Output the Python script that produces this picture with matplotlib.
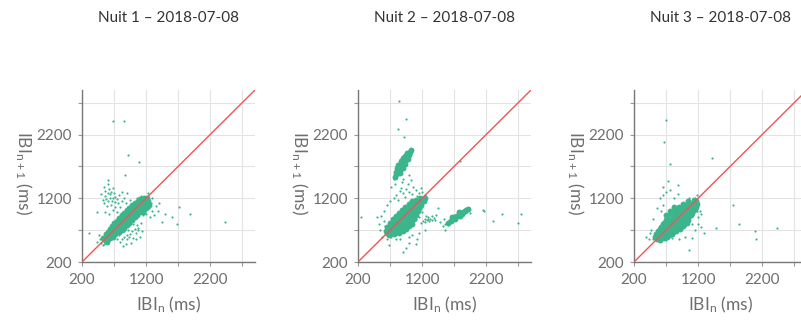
import numpy as np
import matplotlib
matplotlib.use("Agg")
import matplotlib.pyplot as plt

plt.rcParams['font.family'] = ['Lato', 'DejaVu Sans']
plt.rcParams['mathtext.default'] = 'regular'

titles = ["Nuit 1 – 2018-07-08", "Nuit 2 – 2018-07-08", "Nuit 3 – 2018-07-08"]
ticks = [200, 700, 1200, 1700, 2200, 2700]
tick_labels = ["200", "", "1200", "", "2200", ""]

# dense part of each night (IBI_n, IBI_n+1) in ms
n1_core = [(560, 540), (530, 580), (590, 520),
           (600, 600), (570, 640), (630, 570), (610, 560),
           (640, 630), (600, 670), (680, 600), (650, 660),
           (680, 680), (630, 720), (720, 640), (700, 700), (660, 650),
           (720, 710), (670, 760), (770, 670), (740, 740), (700, 690),
           (760, 750), (700, 810), (820, 700), (780, 780), (740, 730), (730, 790),
           (800, 790), (740, 850), (860, 740), (820, 820), (780, 770), (760, 830), (840, 760),
           (840, 830), (780, 890), (900, 780), (860, 860), (820, 810), (800, 870), (880, 800),
           (880, 870), (820, 930), (940, 820), (900, 900), (860, 850), (840, 910), (920, 840),
           (920, 910), (860, 970), (980, 860), (940, 940), (900, 890), (880, 950), (960, 880),
           (960, 950), (900, 1010), (1020, 900), (980, 980), (940, 930), (920, 990), (1000, 920),
           (1000, 990), (940, 1050), (1060, 940), (1020, 1020), (980, 970), (960, 1030), (1040, 960),
           (1040, 1030), (980, 1090), (1100, 980), (1060, 1060), (1020, 1010), (1000, 1070), (1080, 1000),
           (1080, 1070), (1020, 1130), (1140, 1020), (1100, 1100), (1060, 1050), (1040, 1110), (1120, 1040),
           (1120, 1110), (1070, 1160), (1170, 1060), (1140, 1140), (1100, 1090), (1160, 1100),
           (1160, 1150), (1110, 1190), (1200, 1100), (1180, 1170), (1140, 1130),
           (1200, 1180), (1170, 1210), (1230, 1150), (1220, 1200),
           (640, 700), (700, 760), (760, 820), (820, 880), (880, 940), (940, 1000), (1000, 1060),
           (1060, 1120), (1100, 1160), (700, 640), (760, 700), (820, 760), (880, 820), (940, 880),
           (1000, 940), (1060, 1000), (1120, 1060), (1180, 1110), (1250, 1100), (1200, 1050), (1150, 990)]
n1_sparse = [(520, 1180), (560, 1230), (600, 1150), (640, 1260), (680, 1200), (710, 1140), (560, 1320),
             (620, 1340), (700, 1280), (740, 1190), (500, 1260), (650, 1100), (590, 1080), (720, 1060),
             (760, 1120), (540, 1380), (610, 1420), (680, 1360), (770, 1250), (820, 1150), (800, 1060),
             (690, 1010), (560, 980), (620, 950), (750, 980), (850, 1210), (900, 1280), (820, 1300), (950, 1180),
             (880, 1120), (800, 520), (850, 600), (900, 560), (950, 640), (1000, 580), (1050, 650), (1100, 600),
             (880, 480), (960, 500), (1020, 720), (1080, 700), (1130, 680), (920, 700), (860, 680), (780, 620),
             (1000, 800), (1060, 780), (1120, 820), (740, 560), (840, 450), (1250, 1050), (1300, 1000),
             (1280, 1120), (1350, 1080), (1200, 960), (1260, 900), (1320, 940), (1380, 1000), (1180, 1000),
             (1150, 930), (1230, 1280), (1300, 1200), (1400, 1130), (1120, 1230), (1060, 1200), (1000, 1130),
             (480, 560), (460, 620), (500, 500), (520, 470), (430, 520), (550, 480), (684, 2417), (850, 2417),
             (918, 1877), (1086, 1768), (877, 1560), (605, 1494), (435, 987), (304, 648), (1711, 1065),
             (1893, 961), (1607, 909), (1685, 804), (1450, 830), (2426, 829), (1500, 960),
             (580, 1190), (630, 1210), (540, 1130), (670, 1150), (600, 1280), (660, 1300), (720, 1220),
             (900, 620), (980, 680), (1040, 560), (930, 590), (1070, 740), (820, 560)]

n2_core = [(650, 650), (630, 690), (680, 630), (700, 660),
           (700, 700), (660, 750), (740, 660), (720, 720), (690, 670), (760, 640),
           (750, 750), (700, 810), (800, 700), (770, 770), (730, 730), (820, 680), (780, 650),
           (800, 800), (740, 870), (860, 740), (820, 820), (780, 780), (760, 840), (880, 700), (840, 660),
           (850, 850), (790, 920), (910, 790), (870, 870), (830, 830), (810, 890), (930, 740), (900, 680),
           (900, 900), (840, 970), (960, 840), (920, 920), (880, 880), (860, 940), (980, 790), (950, 720),
           (950, 950), (890, 1020), (1010, 890), (970, 970), (930, 930), (910, 990), (1030, 840), (1000, 760),
           (1000, 1000), (940, 1070), (1060, 940), (1020, 1020), (980, 980), (960, 1040), (1080, 880),
           (1050, 1050), (1000, 1110), (1110, 990), (1070, 1070), (1030, 1030), (1010, 1090), (1100, 930),
           (1100, 1100), (1050, 1150), (1150, 1040), (1120, 1120), (1080, 1080), (1140, 1000),
           (1150, 1140), (1110, 1180), (1190, 1090), (1170, 1160), (1130, 1120),
           (1200, 1180), (1170, 1210), (1230, 1150), (1240, 1210),
           (720, 680), (780, 720), (840, 760), (900, 800), (960, 860), (1020, 900), (1080, 960),
           (1120, 1020), (1160, 1080), (880, 740), (940, 780), (1000, 820), (1050, 860), (700, 760),
           (760, 810), (820, 860), (880, 920), (940, 990), (1000, 1050), (1060, 1100), (860, 720),
           (920, 760), (970, 800), (1040, 800), (990, 920), (1060, 1000),
           (780, 1540), (800, 1580), (790, 1620), (820, 1600), (830, 1650), (810, 1680), (850, 1640), (860, 1700),
           (840, 1730), (880, 1690), (890, 1750), (870, 1780), (910, 1740), (920, 1800), (900, 1830), (940, 1790),
           (950, 1850), (930, 1870), (970, 1840), (980, 1890), (960, 1910), (1000, 1880), (1010, 1930),
           (1030, 1960), (860, 1600), (900, 1680), (940, 1740), (980, 1810), (820, 1720),
           (1600, 820), (1650, 840), (1700, 900), (1750, 920), (1790, 920), (1840, 990), (1890, 1010),
           (1720, 870), (1820, 960), (1660, 900), (1780, 980), (1870, 1000), (1920, 1030)]
n2_sparse = [(800, 1250), (850, 1320), (900, 1280), (950, 1350), (1000, 1300), (1050, 1260), (1100, 1330),
             (1150, 1280), (980, 1420), (880, 1450), (1020, 1480), (760, 1200), (700, 1150), (650, 1100),
             (820, 1180), (1200, 1300), (1250, 1250), (1120, 1230), (720, 1380), (780, 1420), (600, 1000),
             (560, 920), (520, 800), (540, 700), (580, 600), (650, 560), (1200, 980), (1150, 900), (1100, 880),
             (1180, 820), (1250, 700), (1000, 500), (1100, 480), (950, 420), (1050, 620), (1150, 650),
             (680, 470), (900, 350), (860, 560), (500, 900), (900, 1500), (1000, 1560), (760, 1500), (800, 1520),
             (1220, 850), (1250, 880), (1280, 860), (1300, 900), (1330, 870), (1360, 920), (1390, 890),
             (1420, 930), (1260, 920), (1310, 840), (1350, 860), (1240, 830), (1290, 880), (1400, 860),
             (1560, 800), (1620, 860), (1680, 880), (1770, 950), (1860, 970), (1940, 1020),
             (1710, 940), (1850, 1020), (1600, 780), (1640, 810), (1730, 890), (1800, 940), (1880, 980),
             (1520, 760), (1480, 830), (1540, 880), (840, 2731), (954, 2437), (914, 2160), (830, 2290),
             (1796, 1782), (2150, 1012), (2164, 1001), (1955, 965), (2304, 845), (2445, 950), (2690, 809),
             (2737, 950), (252, 907), (1550, 700), (1450, 1050), (940, 1220), (1060, 1380), (870, 1360),
             (1180, 1360), (620, 760), (600, 840), (1000, 600), (1120, 560), (800, 560), (720, 600)]

n3_core = [(560, 560), (530, 600), (600, 540), (580, 610),
           (620, 620), (570, 680), (670, 580), (600, 570), (640, 660), (550, 640),
           (680, 680), (620, 750), (740, 620), (700, 720), (650, 640), (600, 720), (720, 600),
           (740, 740), (670, 820), (810, 670), (760, 780), (710, 700), (650, 790), (790, 640), (700, 860),
           (800, 800), (720, 890), (870, 720), (820, 840), (770, 760), (700, 930), (860, 680), (760, 860),
           (860, 860), (780, 950), (930, 780), (880, 900), (830, 820), (760, 1000), (920, 720), (820, 930),
           (920, 920), (840, 1010), (990, 840), (940, 960), (890, 880), (820, 1060), (980, 790), (880, 990),
           (980, 980), (900, 1070), (1050, 900), (1000, 1020), (950, 940), (1040, 860), (940, 1050),
           (1040, 1040), (970, 1110), (1100, 970), (1060, 1080), (1010, 1000), (1090, 930),
           (1100, 1100), (1050, 1150), (1150, 1040), (1120, 1130), (1070, 1060),
           (1160, 1150), (1130, 1170), (1190, 1110),
           (840, 760), (900, 820), (960, 880), (1020, 940), (1080, 1000), (780, 700), (720, 660),
           (660, 610), (740, 680), (880, 750), (950, 820), (1010, 880), (1070, 940), (1130, 1010),
           (1160, 1070), (620, 680), (690, 780), (750, 820), (810, 900), (870, 960), (930, 1020),
           (990, 1060), (1030, 1090), (580, 650), (640, 720), (960, 760), (1020, 820)]
n3_sparse = [(705, 2435), (669, 2081), (757, 1742), (1414, 1836), (737, 1471), (893, 1404), (660, 1380),
             (700, 1300), (650, 1250), (760, 1330), (880, 1260), (820, 1200), (600, 1200), (560, 1050),
             (500, 880), (470, 700), (430, 560), (382, 596), (450, 650), (1747, 1091), (1841, 794), (1476, 737),
             (1242, 752), (1294, 648), (1112, 570), (1060, 388), (1200, 800), (1250, 950), (1230, 1000),
             (2088, 687), (2103, 567), (2436, 740), (1150, 700), (1000, 600), (900, 560), (950, 1100),
             (1060, 1200), (1150, 1200), (1180, 1250), (500, 560), (520, 640), (620, 1000), (660, 1100),
             (1200, 900), (1180, 1000), (1100, 800), (1000, 760), (800, 580), (700, 540)]

nights = [(n1_core, n1_sparse), (n2_core, n2_sparse), (n3_core, n3_sparse)]

green = '#3db58c'
grey = '#6e6e6e'
fig = plt.figure(figsize=(8.01, 3.22), dpi=100)
lefts = [82, 358, 634]
for i, (core, sparse) in enumerate(nights):
    ax = fig.add_axes([lefts[i] / 801, 60 / 322, 173 / 801, 172 / 322])
    c = np.array(core)
    s = np.array(sparse)
    ax.scatter(s[:, 0], s[:, 1], s=2.5, color=green, linewidths=0, zorder=3)
    ax.scatter(c[:, 0], c[:, 1], s=18, color=green, linewidths=0, zorder=3)
    ax.plot([200, 2900], [200, 2900], color='#ee5555', lw=1, zorder=4)
    ax.set_xlim(200, 2900)
    ax.set_ylim(200, 2900)
    ax.set_xticks(ticks)
    ax.set_yticks(ticks)
    ax.set_xticklabels(tick_labels)
    ax.set_yticklabels(tick_labels)
    ax.grid(True, color='#e3e3e3', lw=0.8, zorder=0)
    ax.set_axisbelow(True)
    for side in ['top', 'right']:
        ax.spines[side].set_visible(False)
    for side in ['left', 'bottom']:
        ax.spines[side].set_color('#777777')
        ax.spines[side].set_linewidth(1)
    ax.tick_params(direction='out', length=3, width=0.8, color='#999999',
                   labelsize=11, labelcolor=grey)
    ax.tick_params(axis='x', pad=5)
    ax.tick_params(axis='y', pad=4)
    ax.text(0.5, -0.28, 'IBI$_n$ (ms)', transform=ax.transAxes, ha='center', va='baseline',
            fontsize=12.5, color=grey)
    ax.text(-0.37, 0.52, 'IBI$_{n+1}$ (ms)', transform=ax.transAxes, ha='center', va='baseline',
            rotation=270, rotation_mode='anchor', fontsize=12.5, color=grey)
    fig.text((lefts[i] + 86.5) / 801, 1 - 18 / 322, titles[i], ha='center', va='center',
             fontsize=11, color='#333333')

fig.savefig('out.png', dpi=100)
